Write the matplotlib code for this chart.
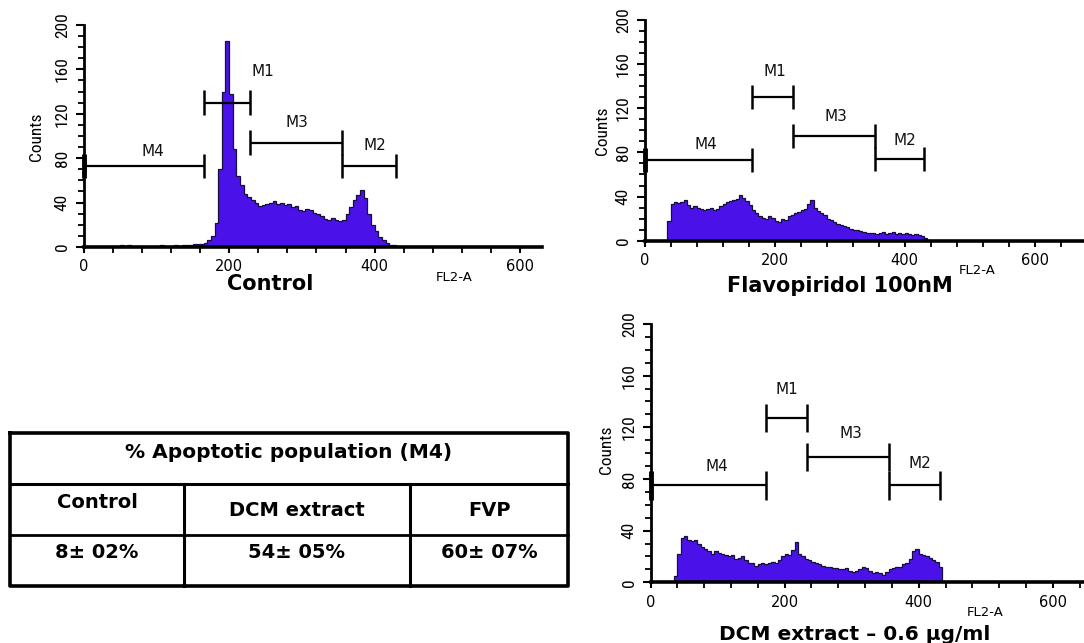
import numpy as np
import matplotlib
matplotlib.use("Agg")
import matplotlib.pyplot as plt
from matplotlib import font_manager as fm

# ---------------- data ----------------
bin_width = 5
control_start = 40
control_counts = [1, 1, 2, 1, 2, 1, 1, 1,
                  0, 0, 0, 0, 1, 2, 1, 0,
                  1, 2, 1, 2, 2, 2, 3, 3,
                  3, 4, 6, 10, 22, 70, 140, 186,
                  138, 88, 64, 56, 48, 45, 42, 40,
                  37, 38, 39, 40, 41, 39, 40, 38,
                  39, 36, 37, 33, 32, 34, 33, 31,
                  30, 28, 25, 24, 26, 24, 23, 24,
                  30, 36, 42, 47, 51, 44, 30, 20,
                  14, 9, 6, 4, 2, 2, 1, 0]

flavo_start = 35
flavo_counts = [18, 33, 35, 34, 35, 37, 32, 30,
                31, 30, 29, 28, 29, 30, 28, 29,
                31, 33, 35, 36, 37, 38, 41, 39,
                36, 32, 28, 25, 22, 21, 20, 22,
                21, 18, 17, 20, 19, 22, 23, 25,
                26, 28, 29, 33, 37, 30, 27, 25,
                23, 20, 19, 17, 15, 14, 13, 12,
                11, 10, 10, 9, 8, 7, 7, 7,
                6, 7, 8, 6, 7, 8, 6, 7,
                6, 7, 6, 5, 6, 5, 4, 2]

dcm_start = 35
dcm_counts = [5, 22, 34, 36, 33, 32, 33, 30,
              27, 26, 24, 22, 24, 23, 22, 21,
              20, 21, 18, 19, 20, 17, 15, 15,
              13, 14, 15, 14, 15, 16, 15, 17,
              20, 22, 21, 25, 31, 22, 20, 18,
              17, 16, 15, 14, 13, 12, 12, 11,
              11, 10, 10, 11, 9, 8, 9, 10,
              12, 11, 9, 7, 8, 7, 6, 8,
              10, 11, 12, 12, 14, 15, 18, 24,
              26, 22, 21, 20, 19, 17, 16, 12]

gate_names = ["M4", "M1", "M3", "M2"]
control_gates_start = [0, 166, 229, 355]
control_gates_end = [166, 229, 355, 430]
control_gates_y = [73, 130, 94, 73]
control_label_x = [96, 246, 293, 400]
control_label_y = [86, 158, 112, 91]

flavo_gates_start = [0, 166, 229, 355]
flavo_gates_end = [166, 229, 355, 430]
flavo_gates_y = [73, 130, 95, 74]
flavo_label_x = [95, 200, 295, 401]
flavo_label_y = [87, 153, 113, 91]

dcm_gates_start = [0, 172, 234, 356]
dcm_gates_end = [172, 234, 356, 431]
dcm_gates_y = [75, 127, 97, 75]
dcm_label_x = [99, 204, 299, 401]
dcm_label_y = [90, 149, 115, 92]

panel_titles = ["Control", "Flavopiridol 100nM", "DCM extract \u2013 0.6 \u03bcg/ml"]
x_axis_label = "FL2-A"
y_axis_label = "Counts"
y_ticks = [0, 40, 80, 120, 160, 200]
x_ticks = [0, 200, 400, 600]

table_header = "% Apoptotic population (M4)"
table_columns = ["Control", "DCM extract", "FVP"]
table_values = ["8\u00b1 02%", "54\u00b1 05%", "60\u00b1 07%"]

# ---------------- style ----------------
W, H = 1084, 643
fill_color = "#4a12e8"
edge_color = "#14103a"

avail = {f.name for f in fm.fontManager.ttflist}
narrow = "DejaVu Sans"
for cand in ["Liberation Sans Narrow", "Roboto Condensed", "DejaVu Sans Condensed",
             "Open Sans Condensed", "Liberation Sans"]:
    if cand in avail:
        narrow = cand
        break
wide = "DejaVu Sans"

fig = plt.figure(figsize=(W / 100, H / 100), dpi=100)


def px_axes(left, right, bottom, top):
    return fig.add_axes([left / W, 1 - bottom / H, (right - left) / W, (bottom - top) / H])


def draw_panel(ax, start, counts, xmax, gs, ge, gy, lx, ly):
    counts = np.asarray(counts, dtype=float)
    edges = start + bin_width * np.arange(len(counts) + 1)
    ax.stairs(counts, edges, fill=True, color=fill_color, lw=0)
    ax.stairs(counts, edges, color=edge_color, lw=0.9)
    ax.set_xlim(0, xmax)
    ax.set_ylim(0, 200)
    for s in ["top", "right"]:
        ax.spines[s].set_visible(False)
    ax.spines["left"].set_linewidth(2.0)
    ax.spines["bottom"].set_linewidth(2.6)
    ax.set_yticks(y_ticks)
    ax.set_yticks(np.arange(0, 201, 10), minor=True)
    ax.set_xticks(x_ticks)
    ax.set_xticks(np.arange(0, xmax, 40), minor=True)
    ax.tick_params(axis="y", which="major", length=6, width=1.5, pad=9.2)
    ax.tick_params(axis="y", which="minor", length=4, width=1.3)
    ax.tick_params(axis="x", which="major", length=4, width=1.5, pad=5)
    ax.tick_params(axis="x", which="minor", length=4, width=1.3)
    for lab in ax.get_yticklabels():
        lab.set_rotation(90)
        lab.set_va("center")
        lab.set_ha("center")
        lab.set_family(narrow)
        lab.set_fontsize(12.5)
    for lab in ax.get_xticklabels():
        lab.set_family(wide)
        lab.set_fontsize(10.5)
    for name, a, b, y, tx, ty in zip(gate_names, gs, ge, gy, lx, ly):
        ax.plot([a, b], [y, y], color="black", lw=1.6, clip_on=False, solid_capstyle="butt")
        for xx in (a, b):
            ax.plot([xx, xx], [y - 11, y + 11], color="black",
                    lw=(3.5 if xx == 0 else 1.8), clip_on=False, solid_capstyle="butt")
        ax.text(tx, ty, name, ha="center", va="center", fontsize=11,
                family=wide, color="#111111")


ax1 = px_axes(83.5, 542, 247, 25)
draw_panel(ax1, control_start, control_counts, 630,
           control_gates_start, control_gates_end, control_gates_y,
           control_label_x, control_label_y)

ax2 = px_axes(644.5, 1084, 240.7, 20)
draw_panel(ax2, flavo_start, flavo_counts, 676,
           flavo_gates_start, flavo_gates_end, flavo_gates_y,
           flavo_label_x, flavo_label_y)

ax3 = px_axes(650.5, 1083, 582.3, 324)
draw_panel(ax3, dcm_start, dcm_counts, 645,
           dcm_gates_start, dcm_gates_end, dcm_gates_y,
           dcm_label_x, dcm_label_y)


def ftext(x, y, s, **kw):
    fig.text(x / W, 1 - y / H, s, **kw)


# titles, axis labels
ftext(270, 284, panel_titles[0], ha="center", va="center", fontsize=15,
      family=wide, weight="bold")
ftext(840, 286, panel_titles[1], ha="center", va="center", fontsize=15,
      family=wide, weight="bold")
ftext(855, 634, panel_titles[2], ha="center", va="center", fontsize=14.5,
      family=wide, weight="bold")
for (x, y) in [(454, 278), (977, 270), (985, 613)]:
    ftext(x, y, x_axis_label, ha="center", va="center", fontsize=9.5,
          family=wide)
for (x, y) in [(36, 137), (603, 131), (607, 450)]:
    ftext(x, y, y_axis_label, ha="center", va="center", fontsize=12.5,
          family=narrow, rotation=90)

# ---------------- table ----------------
tax = fig.add_axes([0, 0, 1, 1])
tax.set_xlim(0, W)
tax.set_ylim(H, 0)
tax.axis("off")
t_left, t_right, t_top, t_bottom = 10, 568, 433, 586
row1, row2 = 484, 535
col1, col2 = 184, 410
tax.plot([t_left, t_right, t_right, t_left, t_left],
         [t_top, t_top, t_bottom, t_bottom, t_top], color="black", lw=2.6)
tax.plot([t_left, t_right], [row1, row1], color="black", lw=2.2)
tax.plot([t_left, t_right], [row2, row2], color="black", lw=2.0)
tax.plot([col1, col1], [row1, t_bottom], color="black", lw=2.2)
tax.plot([col2, col2], [row1, t_bottom], color="black", lw=2.2)

tax.text((t_left + t_right) / 2, 453, table_header, ha="center", va="center",
         fontsize=14.5, family=wide, weight="bold")
col_centers = [(t_left + col1) / 2, (col1 + col2) / 2, (col2 + t_right) / 2]
head_y = [502, 510, 510]
for cx, hy, s in zip(col_centers, head_y, table_columns):
    tax.text(cx, hy, s, ha="center", va="center", fontsize=14,
             family=wide, weight="bold")
for cx, s in zip(col_centers, table_values):
    tax.text(cx, 553, s, ha="center", va="center", fontsize=14,
             family=wide, weight="bold")

fig.savefig("out.png", dpi=100)
